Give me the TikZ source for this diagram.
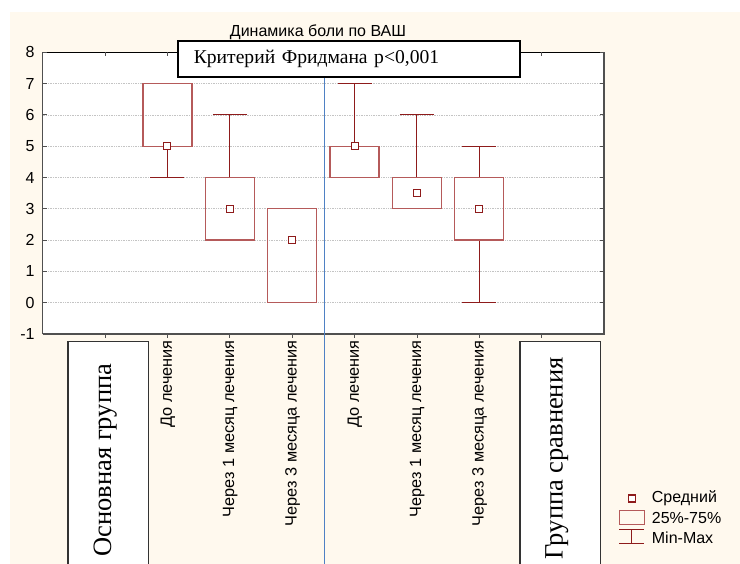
\documentclass[tikz,border=0pt]{standalone}
\usepackage{fontspec}
\setmainfont{Liberation Serif}
\setsansfont{Liberation Sans}
\definecolor{cream}{HTML}{FFF9EE}
\definecolor{wred}{HTML}{8E1B1B}
\definecolor{bred}{HTML}{B55A5A}
\definecolor{vblue}{HTML}{4F81C4}
\definecolor{gridc}{HTML}{C4C4C4}
\definecolor{axisc}{HTML}{505050}
\tikzset{
  whisk/.style={draw=wred, line width=1pt},
  qbox/.style={draw=bred, line width=1.3pt},
  meanmark/.style={draw=wred, fill=white, line width=1.1pt, rectangle, minimum size=7pt, inner sep=0pt},
  ylab/.style={anchor=east, inner sep=0pt, font=\sffamily\fontsize{16}{18}\selectfont},
  catlab/.style={rotate=90, anchor=east, inner sep=0pt, font=\sffamily\fontsize{16.3}{18}\selectfont},
  grouplab/.style={rotate=90, anchor=base west, inner sep=0pt, font=\rmfamily\fontsize{26.5}{30}\selectfont},
  leglab/.style={anchor=west, inner sep=0pt, font=\sffamily\fontsize{16}{18}\selectfont},
}
\newcommand\boxplt[6]{% x, min, q1, mean, q3, max
  \draw[whisk] (#1,#2) -- (#1,#3);
  \draw[whisk] (#1-0.273,#2) -- (#1+0.273,#2);
  \draw[whisk] (#1,#5) -- (#1,#6);
  \draw[whisk] (#1-0.273,#6) -- (#1+0.273,#6);
  \draw[qbox] (#1-0.393,#3) rectangle (#1+0.393,#5);
  \node[meanmark] (m#1) at (#1,#4) {};
}
\begin{document}
\begin{tikzpicture}[x=1pt,y=-1pt]
\useasboundingbox (0,0) rectangle (740,564);
\clip (0,0) rectangle (740,564);
\fill[white] (0,0) rectangle (740,564);
\fill[cream] (10,12) rectangle (740,564);
\fill[white] (42.7,52.3) rectangle (604,334);
% title
\node[font=\sffamily\fontsize{16}{18}\selectfont, inner sep=0pt] (title) at (318,32) {Динамика боли по ВАШ};
\begin{scope}[shift={(42.7,302.7)}, x=62.37pt, y=31.3pt]
  \foreach \v in {0,...,7} \draw[gridc, densely dotted, line width=0.7pt] (0,\v) -- (9,\v);
  \draw[axisc, line width=1.2pt] (0,-1) -- (9,-1) -- (9,8);
  \draw[axisc, line width=1.2pt] (0,-1) -- (0,8);
  \draw[black, line width=1pt] (0,8) -- (9,8);
  \foreach \v in {-1,...,8} {
    \draw[axisc, line width=0.8pt] (0,\v) -- ++(4pt,0);
    \draw[axisc, line width=0.8pt] (9,\v) -- ++(-4pt,0);
    \node[ylab] (y\v) at ([xshift=-8pt]0,\v) {\v};
  }
  \foreach \i in {1,...,8} {
    \draw[axisc, line width=0.8pt] (\i,-1) -- ++(0,-4pt);
    \draw[axisc, line width=0.8pt] (\i,8) -- ++(0,-4pt);
  }
  \boxplt{2}{4}{5}{5}{7}{7}
  \boxplt{3}{2}{2}{3}{4}{6}
  \boxplt{4}{0}{0}{2}{3}{3}
  \boxplt{5}{4}{4}{5}{5}{7}
  \boxplt{6}{3}{3}{3.5}{4}{6}
  \boxplt{7}{0}{2}{3}{4}{5}
\end{scope}
% separator
\draw[vblue, line width=1.2pt] (324.7,52.3) -- (324.7,570);
% Friedman box
\node[draw, line width=2pt, fill=white, minimum width=342pt, minimum height=36.6pt,
      text width=310pt, align=left, inner xsep=16pt, inner ysep=0pt,
      font=\rmfamily\fontsize{19.6}{21}\selectfont] (fried) at (348.85,59) {Критерий Фридмана p<0,001};
% category labels
\node[catlab] (c1) at (168,340) {До лечения};
\node[catlab] (c2) at (230.3,340) {Через 1 месяц лечения};
\node[catlab] (c3) at (292.7,340) {Через 3 месяца лечения};
\node[catlab] (c4) at (354.9,340) {До лечения};
\node[catlab] (c5) at (417.2,340) {Через 1 месяц лечения};
\node[catlab] (c6) at (479.5,340) {Через 3 месяца лечения};
% group boxes
\draw[black!80, line width=1.4pt, fill=white] (68,341.7) rectangle (148.7,580);
\node[grouplab] (g1) at (111,556.7) {Основная группа};
\draw[black!80, line width=1.4pt, fill=white] (520,341.7) rectangle (600.7,580);
\node[grouplab] (g2) at (562.5,560) {Группа сравнения};
% legend
\node[meanmark] (lm) at (631.7,498.5) {};
\node[leglab] (lt1) at (651.7,498.7) {Средний};
\draw[qbox, line width=1pt] (619.3,510) rectangle (644,524.3);
\node[leglab] (lt2) at (651.7,518) {25\%-75\%};
\draw[whisk] (619.3,529.3) -- (644,529.3);
\draw[whisk] (631.7,529.3) -- (631.7,543.3);
\draw[whisk] (619.3,543.3) -- (644,543.3);
\node[leglab] (lt3) at (651.7,537.5) {Min-Max};
\end{tikzpicture}
\end{document}
